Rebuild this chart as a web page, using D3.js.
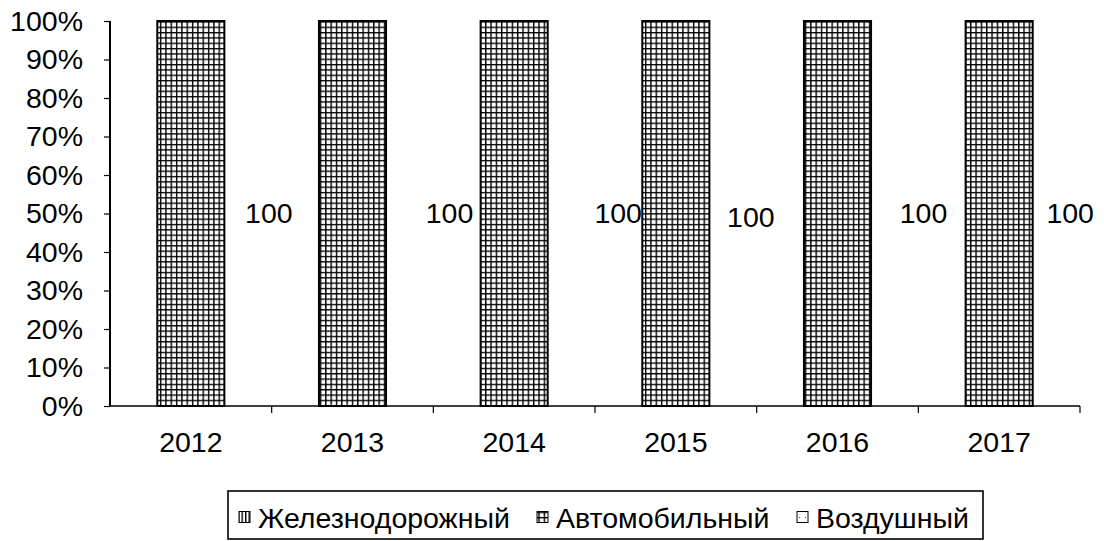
<!DOCTYPE html>
<html>
<head>
<meta charset="utf-8">
<script src="https://cdn.jsdelivr.net/npm/d3@7"></script>
<style>
  html, body { margin: 0; padding: 0; background: #fff; }
  svg { display: block; font-family: "Liberation Sans", Arial, sans-serif; }
</style>
</head>
<body>
<svg id="chart" width="1104" height="541"></svg>
<script>
// Структура перевозок по видам транспорта, %
const years = ["2012", "2013", "2014", "2015", "2016", "2017"];
const railway = [0, 0, 0, 0, 0, 0];
const road = [100, 100, 100, 100, 100, 100];
const air = [0, 0, 0, 0, 0, 0];
const seriesNames = ["Железнодорожный", "Автомобильный", "Воздушный"];
const yTicks = [0, 10, 20, 30, 40, 50, 60, 70, 80, 90, 100];

// hand-placed data labels (offset from the column centre, px)
const labelShift = [[78, 0], [97, 0], [104, 0], [75, 4], [86, 0], [71, 0]];

const svg = d3.select("#chart");
const plotLeft = 110, plotRight = 1080, plotTop = 21, plotBottom = 406;
const fontSize = 28.5;

const x = d3.scaleBand().domain(years).range([plotLeft, plotRight])
  .paddingInner(0.585).paddingOuter(0.2925);
const y = d3.scaleLinear().domain([0, 100]).range([plotBottom, plotTop]);

// fill patterns for the three series
const defs = svg.append("defs");
const grid = defs.append("pattern").attr("id", "pGrid")
  .attr("patternUnits", "userSpaceOnUse").attr("width", 5.33).attr("height", 5.33);
grid.append("rect").attr("width", 5.33).attr("height", 5.33).attr("fill", "#fff");
grid.append("path").attr("d", "M0.7,0V5.33M0,0.7H5.33").attr("stroke", "#000").attr("stroke-width", 1.4);

const vlines = defs.append("pattern").attr("id", "pVert")
  .attr("patternUnits", "userSpaceOnUse").attr("width", 3.5).attr("height", 10);
vlines.append("rect").attr("width", 3.5).attr("height", 10).attr("fill", "#fff");
vlines.append("path").attr("d", "M0.7,0V10").attr("stroke", "#000").attr("stroke-width", 1.4);

const dots = defs.append("pattern").attr("id", "pDots")
  .attr("patternUnits", "userSpaceOnUse").attr("width", 6).attr("height", 6);
dots.append("rect").attr("width", 6).attr("height", 6).attr("fill", "#fff");
dots.append("rect").attr("x", 1).attr("y", 1).attr("width", 1).attr("height", 1).attr("fill", "#444");

const fills = ["url(#pVert)", "url(#pGrid)", "url(#pDots)"];

// stacked 100% columns
const rows = years.map((yr, i) => ({ year: yr, rail: railway[i], road: road[i], air: air[i] }));
const stack = d3.stack().keys(["rail", "road", "air"])(rows);

stack.forEach((layer, si) => {
  svg.append("g").selectAll("rect").data(layer.filter(d => d[1] - d[0] > 0)).join("rect")
    .attr("x", d => x(d.data.year))
    .attr("y", d => y(d[1]))
    .attr("width", x.bandwidth())
    .attr("height", d => y(d[0]) - y(d[1]))
    .attr("fill", fills[si])
    .attr("stroke", "#000")
    .attr("stroke-width", 2);
});

// data labels
svg.append("g").selectAll("text").data(years).join("text")
  .attr("x", (d, i) => x(d) + x.bandwidth() / 2 + labelShift[i][0])
  .attr("y", (d, i) => y(road[i] / 2) + labelShift[i][1])
  .attr("dy", "0.35em")
  .attr("text-anchor", "middle")
  .attr("font-size", fontSize)
  .attr("fill", "#000")
  .text((d, i) => road[i]);

// y axis
const yAxis = svg.append("g").attr("transform", `translate(${plotLeft},0)`)
  .call(d3.axisLeft(y).tickValues(yTicks).tickSize(6).tickPadding(21).tickFormat(d => d + "%"));
yAxis.select(".domain").attr("stroke", "#000").attr("stroke-width", 2).attr("d", `M0,${plotTop}V${plotBottom}`);
yAxis.selectAll(".tick line").attr("stroke", "#000").attr("stroke-width", 1.2);
yAxis.selectAll(".tick text").attr("font-size", fontSize).attr("font-family", "Liberation Sans, Arial, sans-serif").attr("fill", "#000");

// x axis: baseline, boundary ticks and year labels
const gap = x.step() - x.bandwidth();
const xg = svg.append("g");
xg.append("line").attr("x1", plotLeft).attr("x2", plotRight).attr("y1", plotBottom).attr("y2", plotBottom)
  .attr("stroke", "#000").attr("stroke-width", 1.6);
xg.selectAll("line.tk").data(years).join("line").attr("class", "tk")
  .attr("x1", d => x(d) + x.bandwidth() + gap / 2)
  .attr("x2", d => x(d) + x.bandwidth() + gap / 2)
  .attr("y1", plotBottom).attr("y2", plotBottom + 7)
  .attr("stroke", "#000").attr("stroke-width", 1.2);
xg.selectAll("text").data(years).join("text")
  .attr("x", d => x(d) + x.bandwidth() / 2)
  .attr("y", 452)
  .attr("text-anchor", "middle")
  .attr("font-size", fontSize)
  .attr("fill", "#000")
  .text(d => d);

// legend
const lg = svg.append("g");
lg.append("rect").attr("x", 228).attr("y", 491).attr("width", 755).attr("height", 48)
  .attr("fill", "#fff").attr("stroke", "#000").attr("stroke-width", 1.6);
const legendX = [239, 537, 797];
seriesNames.forEach((name, i) => {
  lg.append("rect").attr("x", legendX[i]).attr("y", 511.5).attr("width", 11).attr("height", 11)
    .attr("fill", fills[i]).attr("stroke", "#000").attr("stroke-width", 1);
  lg.append("text").attr("x", legendX[i] + 19).attr("y", 528)
    .attr("font-size", fontSize).attr("fill", "#000").text(name);
});
</script>
</body>
</html>
